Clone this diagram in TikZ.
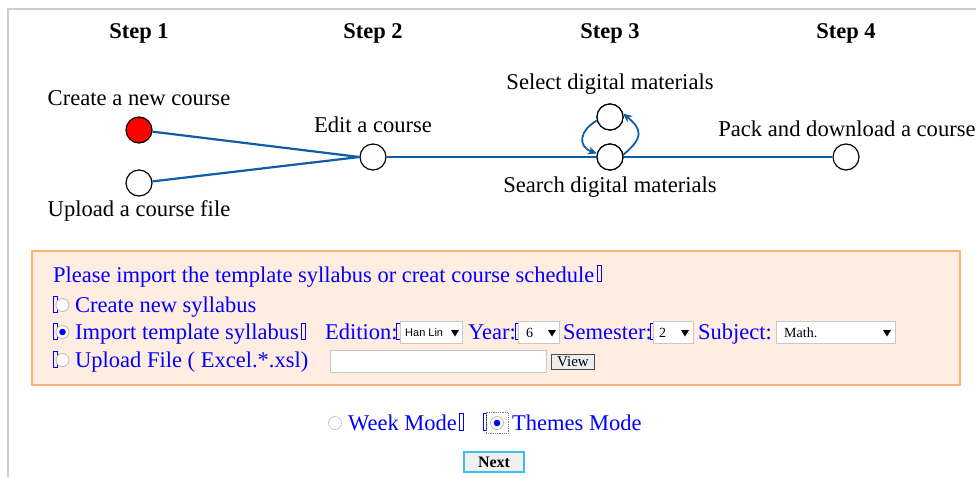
\documentclass[tikz,border=0pt]{standalone}
\usepackage{fontspec}
\setmainfont{Liberation Serif}
\newfontfamily\arialf{Liberation Sans}
\usetikzlibrary{arrows.meta,calc}
\definecolor{lineblue}{RGB}{16,92,168}
\definecolor{formblue}{RGB}{0,0,255}
\definecolor{boxfill}{RGB}{255,237,225}
\definecolor{boxdraw}{RGB}{255,178,115}
\definecolor{framegray}{RGB}{205,205,205}
\definecolor{radiogray}{RGB}{185,185,185}
\definecolor{dropgray}{RGB}{200,200,200}
\definecolor{nextblue}{RGB}{60,190,240}
\tikzset{
 state/.style={circle,draw=black,line width=1.2pt,fill=white,minimum size=26pt,inner sep=0pt},
 lbl/.style={font=\fontsize{22.6}{24}\selectfont,inner sep=0pt},
 steplbl/.style={font=\fontsize{22.5}{24}\selectfont\bfseries,inner sep=0pt},
 flow/.style={draw=lineblue,line width=2.2pt},
 loopline/.style={draw=lineblue,line width=1.8pt,-{Stealth[length=9pt,width=8pt]}},
 ftext/.style={text=formblue,font=\fontsize{22.5}{24}\selectfont,anchor=base west,inner sep=0pt},
 radiobtn/.style={circle,draw=radiogray,fill=white,minimum size=13pt,inner sep=0pt,line width=0.8pt},
 tofu/.style={draw=formblue,line width=0.8pt,inner sep=0pt,minimum width=4pt,minimum height=16pt,anchor=north west},
 dropbox/.style={draw=dropgray,fill=white,line width=1pt,inner sep=0pt,anchor=north west,minimum height=22pt},
 ddtext/.style={font=\fontsize{14}{14}\selectfont,anchor=west,inner sep=0pt},
 ddarrow/.style={fill=black},
}
\begin{document}
\begin{tikzpicture}[x=1pt,y=1pt]
\useasboundingbox (0,0) rectangle (976,-477);
\fill[white] (0,0) rectangle (976,-477);
% outer frame
\draw[framegray,line width=2pt] (7.5,-477) -- (7.5,-8.5) -- (976,-8.5);

% steps
\node[steplbl] (s1) at (139,-33) {Step 1};
\node[steplbl] (s2) at (373,-33) {Step 2};
\node[steplbl] (s3) at (610,-33) {Step 3};
\node[steplbl] (s4) at (846,-33) {Step 4};

% states
\node[state,fill=red] (create) at (139,-130) {};
\node[state] (upload) at (139,-183) {};
\node[state] (edit) at (373,-157) {};
\node[state] (select) at (610,-117) {};
\node[state] (search) at (610,-157) {};
\node[state] (pack) at (846,-157) {};

% labels
\node[lbl] (lcreate) at (139,-98) {Create a new course};
\node[lbl] (lupload) at (139,-211) {Upload a course file};
\node[lbl] (ledit) at (373,-125) {Edit a course};
\node[lbl] (lselect) at (610,-84) {Select digital materials};
\node[lbl] (lsearch) at (610,-187) {Search digital materials};
\node[lbl] (lpack) at (847,-129) {Pack and download a course};

% connectors
\draw[flow] (create) -- (edit.west);
\draw[flow] (upload) -- (edit.west);
\draw[flow] (edit) -- (search);
\draw[flow] (search) -- (pack);
\draw[loopline] (select.195) to[out=210,in=160,looseness=1.6] (search.165);
\draw[loopline] (search.10) to[out=40,in=-40,looseness=1.6] (select.15);
% redraw circles on top of loops
\node[state] at (select) {};
\node[state] at (search) {};

% form panel
\draw[fill=boxfill,draw=boxdraw,line width=2pt] (32,-251) rectangle (960,-385);

% row 1
\node[ftext] (q) at (53,-282) {Please import the template syllabus or creat course schedule};
\node[tofu] (t1) at ($(q.base east)+(3,17)$) {};

% row 2
\node[tofu] (t2) at (53,-296) {};
\node[radiobtn] (r2) at (62.5,-305) {};
\node[ftext] (c2) at (75,-312) {Create new syllabus};

% row 3
\node[tofu] (t3) at (53,-323) {};
\node[radiobtn] (r3) at (62.5,-332) {};
\fill[formblue] (r3.center) circle (3.3pt);
\node[ftext] (c3) at (75,-339) {Import template syllabus};
\node[tofu] (t3b) at ($(c3.base east)+(2,16)$) {};
\node[ftext] (ed) at (325,-339) {Edition:};
\node[tofu] (t3c) at (396,-323) {};
\node[dropbox,minimum width=62pt] (ded) at (400,-321) {};
\node[ddtext,font=\arialf\fontsize{11}{11}\selectfont] (ved) at ($(ded.west)+(5,0)$) {Han Lin};
\fill[ddarrow] ($(ded.east)+(-12,2.5)$) -- ++(8,0) -- ++(-4,-6.5) -- cycle;
\node[ftext] (yr) at (468,-339) {Year:};
\node[tofu] (t3d) at (515,-323) {};
\node[dropbox,minimum width=41pt] (dyr) at (518,-321) {};
\node[ddtext] (vyr) at ($(dyr.west)+(8,0)$) {6};
\fill[ddarrow] ($(dyr.east)+(-12,2.5)$) -- ++(8,0) -- ++(-4,-6.5) -- cycle;
\node[ftext] (sem) at (563,-339) {Semester:};
\node[tofu] (t3e) at (650,-323) {};
\node[dropbox,minimum width=40pt] (dsem) at (653,-321) {};
\node[ddtext] (vsem) at ($(dsem.west)+(6,0)$) {2};
\fill[ddarrow] ($(dsem.east)+(-13,2.5)$) -- ++(8,0) -- ++(-4,-6.5) -- cycle;
\node[ftext] (subj) at (698,-339) {Subject:};
\node[dropbox,minimum width=119pt] (dsubj) at (776,-321) {};
\node[ddtext] (vsubj) at ($(dsubj.west)+(8,0)$) {Math.};
\fill[ddarrow] ($(dsubj.east)+(-13,2.5)$) -- ++(8,0) -- ++(-4,-6.5) -- cycle;

% row 4
\node[tofu] (t4) at (53,-351) {};
\node[radiobtn] (r4) at (62.5,-360) {};
\node[ftext] (c4) at (75,-367) {Upload File ( Excel.*.xsl)};
\node[dropbox,minimum width=216pt] (inp) at (330,-350) {};
\node[draw=black!70,fill=black!7,line width=1pt,inner sep=0pt,minimum width=43pt,minimum height=15pt,anchor=north west,font=\fontsize{15}{15}\selectfont] (view) at (551,-354) {View};

% mode row
\node[radiobtn,draw=radiogray!80] (rw) at (335,-423) {};
\node[ftext] (wm) at (348,-430) {Week Mode};
\node[tofu,minimum height=17pt] (tw) at (459,-413) {};
\node[tofu,minimum height=17pt,minimum width=3pt] (tw2) at (482.5,-413) {};
\node[draw=gray,densely dotted,line width=0.8pt,minimum width=22pt,minimum height=21pt,inner sep=0pt] (focus) at (497,-423) {};
\node[radiobtn] (rt) at (497,-423) {};
\fill[formblue] (rt.center) circle (3.3pt);
\node[ftext] (tm) at (512,-430) {Themes Mode};

% next button
\node[draw=nextblue,fill=black!6,line width=1.5pt,minimum width=60pt,minimum height=20pt,inner sep=0pt,font=\fontsize{16}{16}\selectfont\bfseries] (next) at (494,-462) {Next};
\end{tikzpicture}
\end{document}
